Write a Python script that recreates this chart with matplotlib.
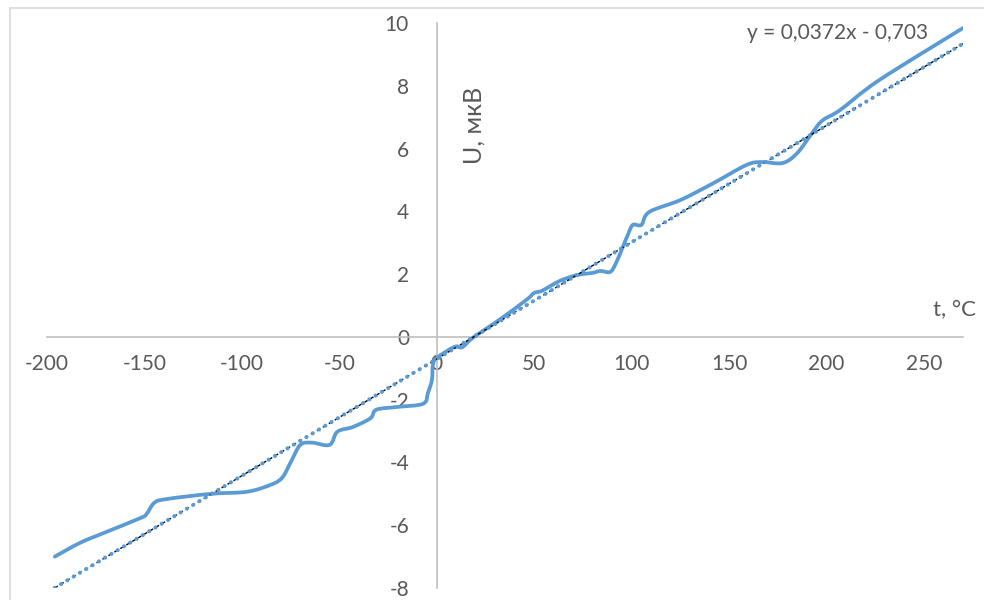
import matplotlib
matplotlib.use('Agg')
import matplotlib.pyplot as plt
from matplotlib.patches import Rectangle, PathPatch
from matplotlib.path import Path

# temperature, degC  /  thermo-EMF, uV
t = [-196, -183, -169, -152, -149, -145, -139, -116, -97, -84, -79, -75, -70,
     -64, -55, -51, -43, -34, -31, -20, -7, -4.5, -2.5, -2, 0, 9, 13, 18.5,
     32, 46, 50, 54, 63, 72, 80, 84, 89, 92, 95.5, 98, 100.6, 105, 109, 125,
     142, 159, 167, 177.5, 185, 193, 198, 207, 227, 270]
U = [-7.0, -6.56, -6.2, -5.77, -5.65, -5.29, -5.17, -5.0, -4.93, -4.68, -4.46,
     -4.0, -3.44, -3.37, -3.44, -3.02, -2.87, -2.59, -2.32, -2.23, -2.13, -1.78,
     -1.37, -0.9, -0.67, -0.32, -0.33, -0.03, 0.54, 1.18, 1.4, 1.47, 1.78, 1.97,
     2.04, 2.1, 2.07, 2.36, 2.87, 3.25, 3.57, 3.57, 3.98, 4.36, 4.9, 5.48, 5.57,
     5.54, 5.86, 6.53, 6.9, 7.23, 8.18, 9.84]

slope = 0.0372
intercept = -0.703

x_ticks = [-200, -150, -100, -50, 0, 50, 100, 150, 200, 250]
y_ticks = [-8, -6, -4, -2, 0, 2, 4, 6, 8, 10]

plt.rcParams['font.family'] = ['Lato', 'Open Sans', 'DejaVu Sans']
plt.rcParams['axes.unicode_minus'] = False
grey = '#595959'
blue = '#5b9bd5'

fig = plt.figure(figsize=(9.84, 6), dpi=100)
ax = fig.add_axes([47/984, 1 - 588/600, (963 - 47)/984, (588 - 23)/600])

# chart border (Excel chart area)
fig.patches.append(Rectangle((10/984, -0.1), 1.2, 1 - 8/600 + 0.1,
                             transform=fig.transFigure, fill=False,
                             edgecolor='#d9d9d9', lw=1.2, zorder=0))

# smoothed line like Excel: cubic bezier segments through the points
pts = list(zip(t, U))
verts = [pts[0]]
codes = [Path.MOVETO]
n = len(pts)
for i in range(n - 1):
    p0 = pts[max(i - 1, 0)]
    p1 = pts[i]
    p2 = pts[i + 1]
    p3 = pts[min(i + 2, n - 1)]
    c1 = (p1[0] + (p2[0] - p0[0]) / 6, p1[1] + (p2[1] - p0[1]) / 6)
    c2 = (p2[0] - (p3[0] - p1[0]) / 6, p2[1] - (p3[1] - p1[1]) / 6)
    verts += [c1, c2, p2]
    codes += [Path.CURVE4] * 3
ax.add_patch(PathPatch(Path(verts, codes), fill=False, edgecolor=blue,
                       lw=2.7, capstyle='round', joinstyle='round', zorder=3))

# linear trendline
tx = [t[0], t[-1]]
ty = [slope * v + intercept for v in tx]
ax.plot(tx, ty, color='black', lw=1.0, ls=(0, (2.5, 2.5)), zorder=4)
ax.plot(tx, ty, color=blue, lw=3.0, ls=(0, (0.01, 1.75)),
        dash_capstyle='round', zorder=5)

ax.set_xlim(-200, 270)
ax.set_ylim(-8, 10)
ax.set_xticks(x_ticks)
ax.set_yticks(y_ticks)

for s in ['top', 'right']:
    ax.spines[s].set_visible(False)
ax.spines['left'].set_position(('data', 0))
ax.spines['bottom'].set_position(('data', 0))
for s in ['left', 'bottom']:
    ax.spines[s].set_color('#bfbfbf')
    ax.spines[s].set_linewidth(1.2)

ax.tick_params(axis='both', length=0, labelsize=15, labelcolor=grey)
ax.tick_params(axis='y', pad=20)
ax.tick_params(axis='x', pad=12)

ax.text(205.7, 9.68, 'y = 0,0372x - 0,703', color=grey, fontsize=15,
        ha='center', va='center')
ax.text(19, 6.75, 'U, мкВ', color=grey, fontsize=18, rotation=90,
        ha='center', va='center')
ax.text(265.5, 0.85, 't, °C', color=grey, fontsize=16, ha='center',
        va='center')

fig.savefig('out.png', dpi=100)
